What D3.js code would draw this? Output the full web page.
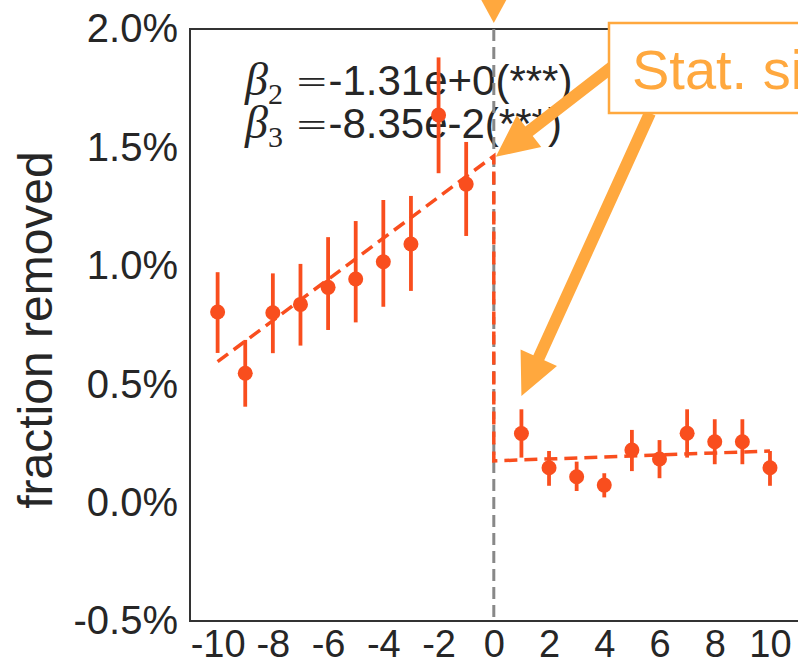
<!DOCTYPE html>
<html>
<head>
<meta charset="utf-8">
<script src="https://cdn.jsdelivr.net/npm/d3@7"></script>
<style>
  body { margin: 0; background: #fff; }
  text { font-family: "Liberation Sans", Arial, sans-serif; }
</style>
</head>
<body>
<script>
// months relative to the change, fraction removed (%) and error bar ends
var xs = [-10, -9, -8, -7, -6, -5, -4, -3, -2, -1, 1, 2, 3, 4, 5, 6, 7, 8, 9, 10];
var vals = [0.805, 0.546, 0.802, 0.837, 0.909, 0.944, 1.017, 1.092, 1.637, 1.345,
            0.292, 0.147, 0.109, 0.074, 0.222, 0.184, 0.293, 0.257, 0.257, 0.147];
var lows = [0.632, 0.405, 0.631, 0.663, 0.729, 0.761, 0.827, 0.894, 1.391, 1.126,
            0.190, 0.071, 0.049, 0.022, 0.133, 0.103, 0.190, 0.162, 0.162, 0.071];
var highs = [0.973, 0.687, 0.968, 1.008, 1.121, 1.189, 1.278, 1.295, 1.880, 1.523,
             0.394, 0.218, 0.173, 0.124, 0.307, 0.264, 0.394, 0.352, 0.352, 0.218];
// fitted segmented regression line
var fitX = [-10, 0, 0, 10];
var fitY = [0.595, 1.464, 0.176, 0.218];

var xTicks = [-10, -8, -6, -4, -2, 0, 2, 4, 6, 8, 10];
var yTicks = [-0.5, 0.0, 0.5, 1.0, 1.5, 2.0];
var betaLines = [["2", "-1.31e+0(***)"], ["3", "-8.35e-2(***)"]];
var arrowTips = [[0, 1.46], [1, 0.45]];

var W = 798, H = 665;
var red = "#f94e1e", orange = "#ffa83e", ink = "#262626";

var svg = d3.select("body").append("svg")
  .attr("width", W).attr("height", H);

var x = d3.scaleLinear().domain([-11, 11]).range([190, 797.6]);
var y = d3.scaleLinear().domain([-0.5, 2.0]).range([621, 29]);

// spines
svg.append("path")
  .attr("d", "M" + (W + 5) + "," + y(2) + "H" + x(-11) + "V" + y(-0.5) + "H" + (W + 5))
  .attr("fill", "none").attr("stroke", "#333").attr("stroke-width", 2);

// ticks, plain hyphen for minus like the original
var yAxis = d3.axisLeft(y).tickValues(yTicks).tickSize(0).tickPadding(12)
  .tickFormat(function(d) { return d.toFixed(1) + "%"; });
var gy = svg.append("g").attr("transform", "translate(" + x(-11) + ",0)").call(yAxis);
gy.select(".domain").remove();
gy.selectAll("text").attr("font-size", 40).attr("fill", ink)
  .attr("font-family", "Liberation Sans, Arial, sans-serif");

var xAxis = d3.axisBottom(x).tickValues(xTicks).tickSize(0).tickPadding(9)
  .tickFormat(function(d) { return String(d); });
var gx = svg.append("g").attr("transform", "translate(0," + y(-0.5) + ")").call(xAxis);
gx.select(".domain").remove();
gx.selectAll("text").attr("font-size", 38).attr("fill", ink)
  .attr("font-family", "Liberation Sans, Arial, sans-serif");

// y label
svg.append("text")
  .attr("transform", "translate(52,330) rotate(-90)")
  .attr("text-anchor", "middle")
  .attr("font-size", 48).attr("fill", ink)
  .text("fraction removed");

// coefficient text
betaLines.forEach(function(b, i) {
  var t = svg.append("text")
    .attr("x", 245).attr("y", 95 + i * 43)
    .attr("fill", ink);
  t.append("tspan").attr("font-family", "Liberation Serif, serif")
    .attr("font-style", "italic").attr("font-size", 46).text("\u03b2");
  t.append("tspan").attr("font-family", "Liberation Serif, serif")
    .attr("font-size", 30).attr("dy", 9).text(b[0]);
  t.append("tspan").attr("font-family", "DejaVu Sans, sans-serif").attr("font-weight", 300)
    .attr("font-size", 40).attr("dy", -9).attr("dx", 12).text("=");
  t.append("tspan").attr("font-size", 42).text(b[1]);
});

// change point
svg.append("line")
  .attr("x1", x(0)).attr("x2", x(0)).attr("y1", y(2)).attr("y2", y(-0.5))
  .attr("stroke", "#888").attr("stroke-width", 3).attr("stroke-dasharray", "12,6");

// fit
var fitLine = d3.line().x(function(d, i) { return x(fitX[i]); }).y(function(d) { return y(d); });
svg.append("path")
  .attr("d", fitLine(fitY))
  .attr("fill", "none").attr("stroke", red).attr("stroke-width", 3.5)
  .attr("stroke-dasharray", "13,7");

// error bars and points
svg.append("g").selectAll("line").data(xs).enter().append("line")
  .attr("x1", function(d) { return x(d); }).attr("x2", function(d) { return x(d); })
  .attr("y1", function(d, i) { return y(lows[i]); })
  .attr("y2", function(d, i) { return y(highs[i]); })
  .attr("stroke", red).attr("stroke-width", 3.8);

svg.append("g").selectAll("circle").data(xs).enter().append("circle")
  .attr("cx", function(d) { return x(d); })
  .attr("cy", function(d, i) { return y(vals[i]); })
  .attr("r", 7.5).attr("fill", red);

// annotation
function arrow(sx, sy, tx, ty) {
  var dx = tx - sx, dy = ty - sy, len = Math.sqrt(dx * dx + dy * dy);
  var ux = dx / len, uy = dy / len, nx = -uy, ny = ux;
  var w = 6, L = 42, Hh = 20;
  var bx = tx - ux * L, by = ty - uy * L;
  var pts = [
    [sx + nx * w, sy + ny * w], [bx + nx * w, by + ny * w], [bx + nx * Hh, by + ny * Hh],
    [tx, ty], [bx - nx * Hh, by - ny * Hh], [bx - nx * w, by - ny * w], [sx - nx * w, sy - ny * w]
  ];
  return "M" + pts.map(function(p) { return p.join(","); }).join("L") + "Z";
}

svg.append("path")
  .attr("d", "M" + (x(0) - 12.5) + ",0L" + (x(0) + 12.5) + ",0L" + x(0) + ",23Z")
  .attr("fill", orange);

svg.append("path").attr("d", arrow(612, 67, x(arrowTips[0][0]) + 2, y(arrowTips[0][1])))
  .attr("fill", orange);
svg.append("path").attr("d", arrow(650, 113, x(arrowTips[1][0]), y(arrowTips[1][1])))
  .attr("fill", orange);

svg.append("rect")
  .attr("x", 609).attr("y", 23).attr("width", 300).attr("height", 90)
  .attr("fill", "#fff").attr("stroke", orange).attr("stroke-width", 2.5);
svg.append("text")
  .attr("x", 632).attr("y", 89)
  .attr("font-size", 56).attr("fill", orange)
  .text("Stat. sig.");
</script>
</body>
</html>
